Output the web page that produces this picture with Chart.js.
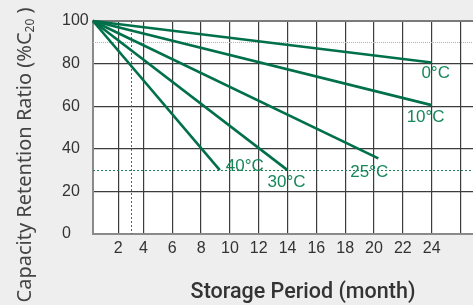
<!DOCTYPE html>
<html>
<head>
<meta charset="utf-8">
<script src="https://cdn.jsdelivr.net/npm/chart.js@4.4.1/dist/chart.umd.min.js"></script>
<style>
  html, body { margin: 0; padding: 0; background: #eeeeee; }
  canvas { display: block; }
</style>
</head>
<body>
<canvas id="retentionChart" width="473" height="305"></canvas>
<script>
// storage temperature curves: straight lines from full capacity to their end point
const seriesNames = ['0°C', '10°C', '25°C', '30°C', '40°C'];
const startMonths = [0, 0, 0, 0, 0];
const startRatios = [100, 100, 100, 100, 100];
const endMonths = [24, 24, 20.3, 14, 9.3];
const endRatios = [80.5, 60.5, 35.5, 30, 30];

const xTickValues = [0, 2, 4, 6, 8, 10, 12, 14, 16, 18, 20, 22, 24, 26];
const xTickLabels = ['', '2', '4', '6', '8', '10', '12', '14', '16', '18', '20', '22', '24', ''];
const yTickValues = [0, 20, 40, 60, 80, 100];

// dotted reference lines
const refRatios = [90, 30];
const refMonths = [3];

const lineGreen = '#00704a';
const textGreen = '#17875a';

// the printed month axis is squeezed between 0 and 4
class BentScale extends Chart.LinearScale {
  static id = 'bent';
  warp(v) { return v <= 4 ? v * 0.875 : 3.5 + (v - 4); }
  unwarp(w) { return w <= 3.5 ? w / 0.875 : w - 3.5 + 4; }
  getPixelForValue(value) {
    if (value === null || value === undefined || isNaN(value)) return NaN;
    const a = this.warp(this.min), b = this.warp(this.max);
    return this.getPixelForDecimal((this.warp(value) - a) / (b - a));
  }
  getValueForPixel(pixel) {
    const a = this.warp(this.min), b = this.warp(this.max);
    return this.unwarp(a + this.getDecimalForPixel(pixel) * (b - a));
  }
}
Chart.register(BentScale);

const plotBackground = {
  id: 'plotBackground',
  beforeDraw(chart) {
    const { ctx, chartArea: a } = chart;
    ctx.save();
    ctx.fillStyle = '#ffffff';
    ctx.fillRect(a.left, a.top, a.right - a.left, a.bottom - a.top);
    ctx.restore();
  }
};

const refLines = {
  id: 'refLines',
  beforeDatasetsDraw(chart) {
    const { ctx, chartArea: a, scales: { x, y } } = chart;
    ctx.save();
    ctx.lineWidth = 1;
    refRatios.forEach((r, i) => {
      const py = Math.round(y.getPixelForValue(r)) + 0.5;
      ctx.strokeStyle = i === 0 ? '#8cc7aa' : '#1f8055';
      ctx.setLineDash(i === 0 ? [1, 1] : [2, 2]);
      ctx.beginPath();
      ctx.moveTo(a.left, py);
      ctx.lineTo(a.right, py);
      ctx.stroke();
    });
    refMonths.forEach(m => {
      const px = Math.round(x.getPixelForValue(m)) + 0.5;
      ctx.strokeStyle = '#1f8055';
      ctx.setLineDash([2, 2]);
      ctx.beginPath();
      ctx.moveTo(px, a.top);
      ctx.lineTo(px, a.bottom);
      ctx.stroke();
    });
    ctx.restore();
  }
};

const endLabels = {
  id: 'endLabels',
  afterDatasetsDraw(chart) {
    const { ctx } = chart;
    const offsets = [[4, 11], [-6, 12], [-9, 14], [-1, 12.5], [25, -4]];
    ctx.save();
    ctx.font = '17px "Liberation Sans", Arial, sans-serif';
    ctx.fillStyle = textGreen;
    ctx.textAlign = 'center';
    ctx.textBaseline = 'middle';
    chart.data.datasets.forEach((ds, i) => {
      const pt = chart.getDatasetMeta(i).data[1];
      ctx.fillText(ds.label, pt.x + offsets[i][0], pt.y + offsets[i][1]);
    });
    ctx.restore();
  }
};

// axis titles are laid out by hand: the y one has a subscript and
// the x one sits right of the plot centre
const axisTitles = {
  id: 'axisTitles',
  afterDraw(chart) {
    const { ctx } = chart;
    ctx.save();
    ctx.fillStyle = '#333333';
    ctx.font = '500 21.5px Roboto, sans-serif';
    ctx.textAlign = 'center';
    ctx.textBaseline = 'alphabetic';
    ctx.fillText('Storage Period (month)', 303, 297.5);

    const main = 'Capacity Retention Ratio (%C';
    const sub = '20';
    const tail = ' )';
    const font = '20px "Noto Sans", "Open Sans", sans-serif';
    const subFont = '12px "Noto Sans", "Open Sans", sans-serif';
    ctx.font = font;
    const w1 = ctx.measureText(main).width;
    const w3 = ctx.measureText(tail).width;
    ctx.font = subFont;
    const w2 = ctx.measureText(sub).width;
    const total = w1 + w2 + w3;
    ctx.translate(31, 155);
    ctx.rotate(-Math.PI / 2);
    ctx.fillStyle = '#444444';
    ctx.textAlign = 'left';
    const x0 = -total / 2;
    ctx.font = font;
    ctx.fillText(main, x0, 0);
    ctx.font = subFont;
    ctx.fillText(sub, x0 + w1, 3);
    ctx.font = font;
    ctx.fillText(tail, x0 + w1 + w2, 0);
    ctx.restore();
  }
};

const datasets = seriesNames.map((name, i) => ({
  label: name,
  data: [
    { x: startMonths[i], y: startRatios[i] },
    { x: endMonths[i], y: endRatios[i] }
  ],
  borderColor: lineGreen,
  borderWidth: 2.6,
  pointRadius: 0,
  tension: 0,
  fill: false,
  clip: 6
}));

new Chart(document.getElementById('retentionChart').getContext('2d'), {
  type: 'line',
  data: { datasets: datasets },
  options: {
    responsive: false,
    animation: false,
    devicePixelRatio: 1,
    layout: { padding: { left: 62, top: 21, right: 0, bottom: 0 } },
    plugins: {
      legend: { display: false },
      tooltip: { enabled: false }
    },
    scales: {
      x: {
        type: 'bent',
        min: 0,
        max: 26.87,
        afterBuildTicks: scale => { scale.ticks = xTickValues.map(v => ({ value: v })); },
        afterFit: scale => { scale.height = 71; },
        ticks: {
          autoSkip: false,
          maxRotation: 0,
          padding: 5,
          color: '#333333',
          font: { family: '"Liberation Sans", Arial, sans-serif', size: 16 },
          callback: (v, i) => xTickLabels[i]
        },
        grid: {
          drawTicks: false,
          color: ctx => ctx.tick && ctx.tick.value === 0 ? 'rgba(0,0,0,0)' : '#3c3c3c',
          lineWidth: 1.2
        },
        border: { color: '#8a8a8a', width: 2 }
      },
      y: {
        min: 0,
        max: 100,
        afterBuildTicks: scale => { scale.ticks = yTickValues.map(v => ({ value: v })); },
        afterFit: scale => { scale.width = 31; },
        ticks: {
          crossAlign: 'far',
          color: '#333333',
          font: { family: '"Liberation Sans", Arial, sans-serif', size: 16 }
        },
        grid: {
          drawTicks: false,
          color: ctx => ctx.tick && ctx.tick.value === 100 ? '#7a7a7a' : '#3c3c3c',
          lineWidth: ctx => ctx.tick && ctx.tick.value === 100 ? 2 : 1.2
        },
        border: { color: '#8a8a8a', width: 2 }
      }
    }
  },
  plugins: [plotBackground, refLines, endLabels, axisTitles]
});
</script>
</body>
</html>
